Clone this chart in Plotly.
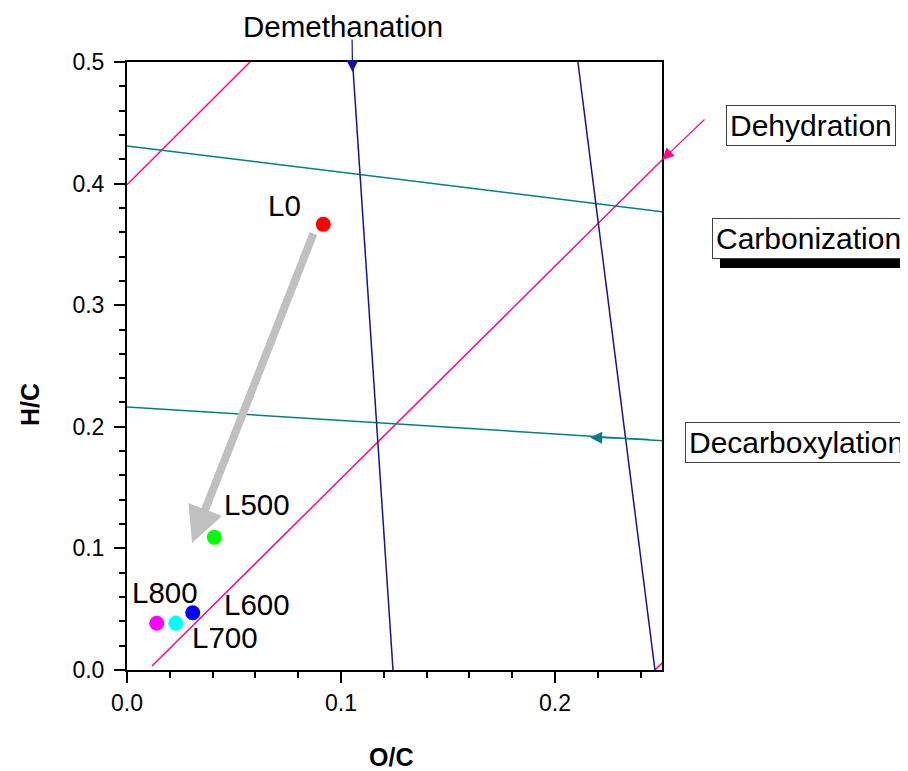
import plotly.graph_objects as go

# ---- data ----
sample_names = ["L0", "L500", "L600", "L700", "L800"]
oc_values = [0.0917, 0.0408, 0.0307, 0.0228, 0.0139]
hc_values = [0.3665, 0.1091, 0.0471, 0.0384, 0.0384]
sample_colors = ["#FF0000", "#00FF00", "#0000FF", "#00FFFF", "#FF00FF"]
label_shift_x = [-39, 43, 64, 49, 8]
label_shift_y = [19, 33, 8, -14, 31]

# reference lines (O/C, H/C endpoints)
dehydration_x = [[0.0, 0.0575], [0.0117, 0.30], [0.2467, 0.26]]
dehydration_y = [[0.399, 0.5], [0.0033, 0.5067], [0.0, 0.0228]]
decarbox_x = [[0.0, 0.25], [0.0, 0.25]]
decarbox_y = [[0.4309, 0.3769], [0.2163, 0.1886]]
demeth_x = [[0.1054, 0.1243], [0.2107, 0.2467]]
demeth_y = [[0.5, 0.0], [0.5, 0.0]]

pink = "#FF0A82"
teal = "#008080"
navy = "#14149A"
FONT = "Liberation Sans, Arial, sans-serif"

fig = go.Figure()

for xs, ys in zip(dehydration_x, dehydration_y):
    fig.add_trace(go.Scatter(x=xs, y=ys, mode="lines", line=dict(color=pink, width=1.5), hoverinfo="skip"))
for xs, ys in zip(decarbox_x, decarbox_y):
    fig.add_trace(go.Scatter(x=xs, y=ys, mode="lines", line=dict(color=teal, width=1.5), hoverinfo="skip"))
for xs, ys in zip(demeth_x, demeth_y):
    fig.add_trace(go.Scatter(x=xs, y=ys, mode="lines", line=dict(color=navy, width=1.5), hoverinfo="skip"))

fig.add_trace(go.Scatter(
    x=oc_values, y=hc_values, mode="markers",
    marker=dict(color=sample_colors, size=15, line=dict(width=0)),
    cliponaxis=False,
))

annotations = []
# sample labels
for name, xv, yv, dx, dy in zip(sample_names, oc_values, hc_values, label_shift_x, label_shift_y):
    annotations.append(dict(x=xv, y=yv, xref="x", yref="y", text=name, showarrow=False,
                            xanchor="center", yanchor="middle",
                            xshift=dx, yshift=dy, font=dict(family=FONT, size=29.5, color="black")))

# grey trend arrow
annotations.append(dict(x=0.0304, y=0.1044, ax=0.0874, ay=0.3602, xref="x", yref="y",
                        axref="x", ayref="y", text="", showarrow=True,
                        arrowhead=2, arrowsize=0.9, arrowwidth=8, arrowcolor="#C0C0C0", standoff=0))

# Demethanation label + arrow
annotations.append(dict(x=0.4037, y=1.059, xref="paper", yref="paper", text="Demethanation",
                        xanchor="center", yanchor="middle",
                        showarrow=False, font=dict(family=FONT, size=29.5, color="black")))
annotations.append(dict(x=0.1054, y=0.4918, xref="x", yref="y", ax=-0.5, ay=-34, text="",
                        showarrow=True, arrowhead=2, arrowsize=2, arrowwidth=1.2, arrowcolor=navy))

# Dehydration arrow from outside
annotations.append(dict(x=0.25, y=0.4194, xref="x", yref="y", ax=44, ay=-42, text="",
                        showarrow=True, arrowhead=2, arrowsize=2, arrowwidth=1.2, arrowcolor=pink))

# Decarboxylation arrow along line
annotations.append(dict(x=0.2164, y=0.1913, xref="x", yref="y", ax=60, ay=2, text="",
                        showarrow=True, arrowhead=2, arrowsize=2, arrowwidth=1.2, arrowcolor=teal))

# boxed labels
box_font = dict(family=FONT, size=30, color="black")
for txt, px, py in [("Dehydration", 1.2776, 0.8956),
                    ("Carbonization", 1.2738, 0.7105),
                    ("Decarboxylation", 1.251, 0.375)]:
    annotations.append(dict(x=px, y=py, xref="paper", yref="paper", text=txt,
                            xanchor="center", yanchor="middle",
                            showarrow=False, font=box_font, bgcolor="white", bordercolor="#404040",
                            borderwidth=1, borderpad=3))

# axis titles
annotations.append(dict(x=-0.181, y=0.436, xref="paper", yref="paper", text="<b>H/C</b>",
                        xanchor="center", yanchor="middle",
                        textangle=-90, showarrow=False, font=dict(family=FONT, size=25, color="black")))
annotations.append(dict(x=0.4935, y=-0.1435, xref="paper", yref="paper", text="<b>O/C</b>",
                        xanchor="center", yanchor="middle",
                        showarrow=False, font=dict(family=FONT, size=25, color="black")))

shapes = [dict(type="rect", xref="paper", yref="paper", x0=1.1084, x1=1.50, y0=0.6612, y1=0.7303,
               fillcolor="black", line=dict(width=0), layer="above")]

axis_common = dict(
    showline=True, linecolor="black", linewidth=2, mirror=True,
    ticks="outside", ticklen=11, tickwidth=2, tickcolor="black",
    showgrid=False, zeroline=False, tickformat=".1f",
    tickfont=dict(family=FONT, size=23, color="black"),
    minor=dict(ticks="outside", ticklen=6, tickwidth=2, tickcolor="black", dtick=0.02, showgrid=False),
)

# page body adds an 8px offset; size the figure so it fits the 908x771 window
fig.update_layout(
    width=900, height=763,
    margin=dict(l=119, r=246, t=54, b=101, autoexpand=False),
    plot_bgcolor="white", paper_bgcolor="white",
    showlegend=False,
    xaxis=dict(range=[0, 0.25], dtick=0.1, tick0=0, **axis_common),
    yaxis=dict(range=[0, 0.5], dtick=0.1, tick0=0, ticklabelstandoff=5, **axis_common),
    annotations=annotations,
    shapes=shapes,
)

fig.write_html("out.html")
